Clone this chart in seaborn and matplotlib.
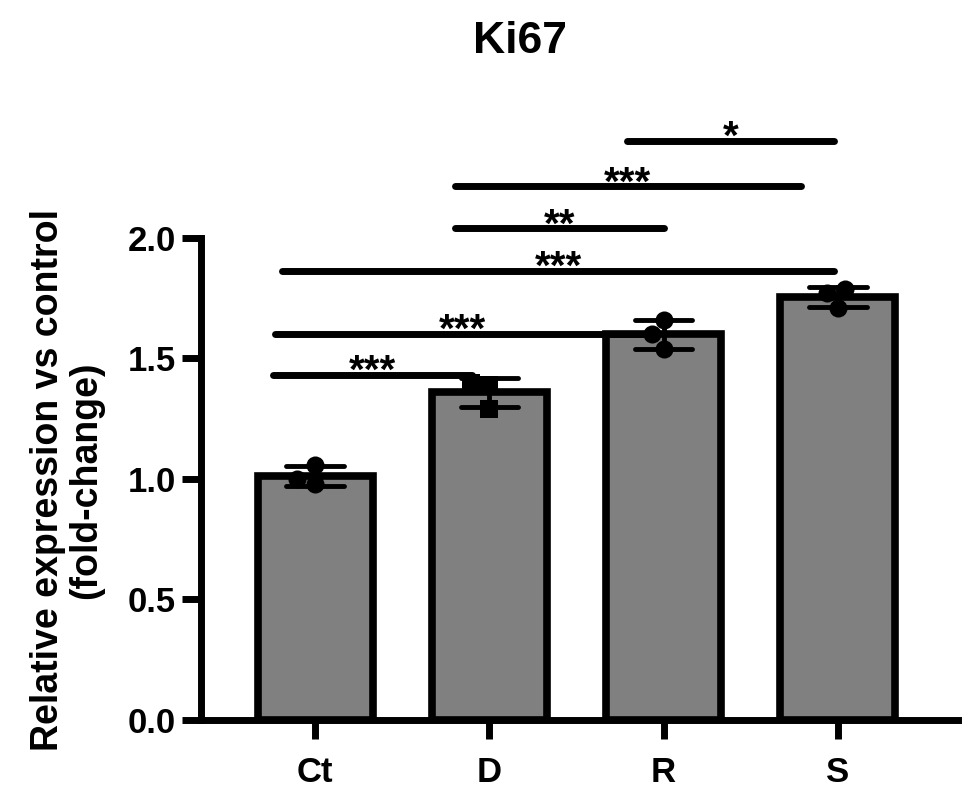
import matplotlib
matplotlib.use("Agg")
import matplotlib.pyplot as plt
import numpy as np
import pandas as pd
import seaborn as sns

# replicate values (fold-change) per group
groups = ["Ct", "D", "R", "S"]
ct_vals = [0.98, 1.06, 1.00]
d_vals = [1.40, 1.39, 1.29]
r_vals = [1.66, 1.60, 1.54]
s_vals = [1.71, 1.79, 1.77]

# significance brackets: start, end (category units), height, label
sig_start = [-0.24, -0.23, -0.19, 0.80, 0.80, 1.79]
sig_end = [0.90, 1.92, 2.98, 2.00, 2.79, 2.98]
sig_height = [1.432, 1.602, 1.864, 2.041, 2.214, 2.404]
sig_label = ["***", "***", "***", "**", "***", "*"]

group_markers = {"Ct": "o", "D": "s", "R": "o", "S": "o"}

df = pd.DataFrame({
    "group": np.repeat(groups, 3),
    "value": ct_vals + d_vals + r_vals + s_vals,
})

sns.set_style("ticks", {"axes.edgecolor": "black", "xtick.color": "black",
                        "ytick.color": "black", "text.color": "black"})
plt.rcParams["font.family"] = ["Liberation Sans", "DejaVu Sans"]
plt.rcParams["font.weight"] = "bold"

fig = plt.figure(figsize=(9.77, 8.0), dpi=100)
ax = fig.add_axes([201 / 977, 0.1, 757 / 977, 590.5 / 800])

sns.barplot(data=df, x="group", y="value", order=groups, errorbar="sd",
            capsize=0.33, width=0.66, color="#808080", saturation=1,
            edgecolor="black", linewidth=5.5,
            err_kws={"color": "black", "linewidth": 3.5}, ax=ax)

for g in groups:
    sns.swarmplot(data=df[df["group"] == g], x="group", y="value",
                  order=groups, marker=group_markers[g], color="black",
                  size=13, ax=ax)

for x1, x2, y, lab in zip(sig_start, sig_end, sig_height, sig_label):
    ax.plot([x1, x2], [y, y], color="black", lw=5,
            solid_capstyle="round", clip_on=False)
    ax.annotate(lab, xy=((x1 + x2) / 2, y), xytext=(0, -6),
                textcoords="offset points", ha="center", va="baseline",
                fontsize=29, fontweight="bold", color="black",
                annotation_clip=False)

ax.set_xlim(-0.655, 3.689)
ax.set_ylim(0, 2.45)
ax.set_yticks([0, 0.5, 1.0, 1.5, 2.0])
ax.set_yticklabels(["0.0", "0.5", "1.0", "1.5", "2.0"])
ax.set_xlabel("")
ax.set_ylabel("")

for side in ["top", "right"]:
    ax.spines[side].set_visible(False)
ax.spines["left"].set_bounds(0, 2.0)
for side in ["left", "bottom"]:
    ax.spines[side].set_linewidth(5)
    ax.spines[side].set_color("black")

ax.tick_params(axis="y", length=14, width=5, pad=4, labelsize=25,
               colors="black")
ax.tick_params(axis="x", length=14, width=5, pad=12, labelsize=25,
               colors="black")
for t in ax.get_xticklabels() + ax.get_yticklabels():
    t.set_fontweight("bold")

fig.text(67 / 977, 0.4, "Relative expression vs control\n(fold-change)",
         rotation=90, ha="center", va="center", multialignment="center",
         fontsize=27, fontweight="bold", linespacing=1.1, color="black")

fig.text(520 / 977, 1 - 53 / 800, "Ki67", ha="center", va="baseline",
         fontsize=32, fontweight="bold", color="black")

fig.savefig("out.png", dpi=100, facecolor="white")
